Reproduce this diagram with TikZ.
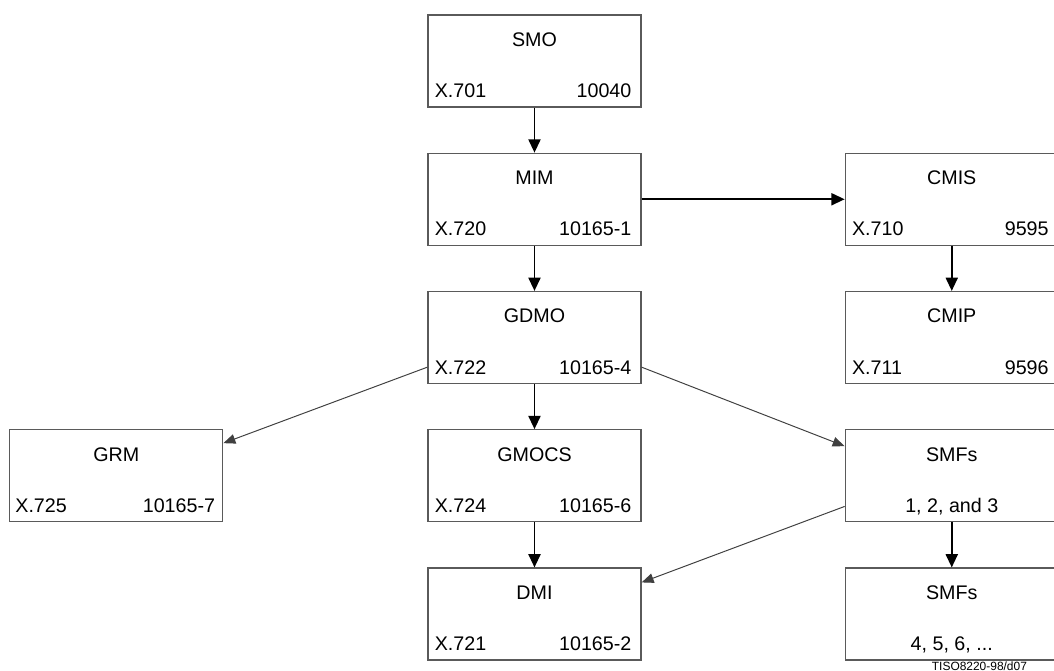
\documentclass[tikz,border=0pt]{standalone}
\usepackage{fontspec}
\setmainfont{Liberation Sans}
\usetikzlibrary{positioning,arrows.meta,calc}
\definecolor{bordeGris}{HTML}{5A5A5A}
\definecolor{lineaGris}{HTML}{404040}

\begin{document}
\begin{tikzpicture}[
  node distance=1.125cm and 5.075cm,
  caja/.style={draw=bordeGris, line width=0.9pt, minimum width=5.325cm,
               minimum height=2.3cm, inner sep=0pt},
  titulo/.style={font=\fontsize{14}{16}\selectfont, anchor=base, inner sep=0pt},
  izq/.style={titulo, anchor=base west},
  der/.style={titulo, anchor=base east},
  flecha/.style={-{Triangle[length=3.3mm,width=3mm]}, line width=1.3pt},
  fina/.style={-{Triangle[length=3mm,width=2.4mm]}, lineaGris, line width=0.7pt}
]
\clip (-13.3625,1.525) rectangle (12.9875,-15.25);

% cajas
\node[caja] (smo) {};
\node[caja, below=of smo] (mim) {};
\node[caja, below=of mim] (gdmo) {};
\node[caja, below=of gdmo] (gmocs) {};
\node[caja, below=of gmocs] (dmi) {};
\node[caja, right=of mim] (cmis) {};
\node[caja, below=of cmis] (cmip) {};
\node[caja, right=of gmocs] (smf1) {};
\node[caja, below=of smf1] (smf2) {};
\node[caja, left=5.1cm of gmocs] (grm) {};

% textos
\node[titulo] (smo-t) at ([yshift=-0.8cm]smo.north) {SMO};
\node[izq] (smo-i) at ([xshift=0.18cm,yshift=0.25cm]smo.south west) {X.701};
\node[der] (smo-d) at ([xshift=-0.25cm,yshift=0.25cm]smo.south east) {10040};

\node[titulo] (mim-t) at ([yshift=-0.8cm]mim.north) {MIM};
\node[izq] (mim-i) at ([xshift=0.18cm,yshift=0.25cm]mim.south west) {X.720};
\node[der] (mim-d) at ([xshift=-0.25cm,yshift=0.25cm]mim.south east) {10165-1};

\node[titulo] (gdmo-t) at ([yshift=-0.8cm]gdmo.north) {GDMO};
\node[izq] (gdmo-i) at ([xshift=0.18cm,yshift=0.25cm]gdmo.south west) {X.722};
\node[der] (gdmo-d) at ([xshift=-0.25cm,yshift=0.25cm]gdmo.south east) {10165-4};

\node[titulo] (gmocs-t) at ([yshift=-0.8cm]gmocs.north) {GMOCS};
\node[izq] (gmocs-i) at ([xshift=0.18cm,yshift=0.25cm]gmocs.south west) {X.724};
\node[der] (gmocs-d) at ([xshift=-0.25cm,yshift=0.25cm]gmocs.south east) {10165-6};

\node[titulo] (dmi-t) at ([yshift=-0.8cm]dmi.north) {DMI};
\node[izq] (dmi-i) at ([xshift=0.18cm,yshift=0.25cm]dmi.south west) {X.721};
\node[der] (dmi-d) at ([xshift=-0.25cm,yshift=0.25cm]dmi.south east) {10165-2};

\node[titulo] (grm-t) at ([yshift=-0.8cm]grm.north) {GRM};
\node[izq] (grm-i) at ([xshift=0.15cm,yshift=0.25cm]grm.south west) {X.725};
\node[der] (grm-d) at ([xshift=-0.2cm,yshift=0.25cm]grm.south east) {10165-7};

\node[titulo] (cmis-t) at ([yshift=-0.8cm]cmis.north) {CMIS};
\node[izq] (cmis-i) at ([xshift=0.18cm,yshift=0.25cm]cmis.south west) {X.710};
\node[der] (cmis-d) at ([xshift=-0.25cm,yshift=0.25cm]cmis.south east) {9595};

\node[titulo] (cmip-t) at ([yshift=-0.8cm]cmip.north) {CMIP};
\node[izq] (cmip-i) at ([xshift=0.18cm,yshift=0.25cm]cmip.south west) {X.711};
\node[der] (cmip-d) at ([xshift=-0.25cm,yshift=0.25cm]cmip.south east) {9596};

\node[titulo] (smf1-t) at ([yshift=-0.8cm]smf1.north) {SMFs};
\node[titulo] (smf1-n) at ([yshift=0.25cm]smf1.south) {1, 2, and 3};
\node[titulo] (smf2-t) at ([yshift=-0.8cm]smf2.north) {SMFs};
\node[titulo] (smf2-n) at ([yshift=0.25cm]smf2.south) {4, 5, 6, ...};

% flechas
\draw[flecha] (smo) -- (mim);
\draw[flecha] (mim) -- (gdmo);
\draw[flecha] (gdmo) -- (gmocs);
\draw[flecha] (gmocs) -- (dmi);
\draw[flecha] (mim) -- (cmis);
\draw[flecha] (cmis) -- (cmip);
\draw[flecha] (smf1) -- (smf2);
\draw[fina] ([yshift=0.425cm]gdmo.south west) -- ([yshift=-0.35cm]grm.north east);
\draw[fina] ([yshift=0.425cm]gdmo.south east) -- ([yshift=-0.425cm]smf1.north west);
\draw[fina] ([yshift=0.4cm]smf1.south west) -- ([yshift=-0.375cm]dmi.north east);

\node[font=\fontsize{8.5}{10}\selectfont, anchor=base west, inner sep=0pt] (ref)
  at ($(smf2.south west)+(2.175,-0.24)$) {TISO8220-98/d07};

\end{tikzpicture}
\end{document}
